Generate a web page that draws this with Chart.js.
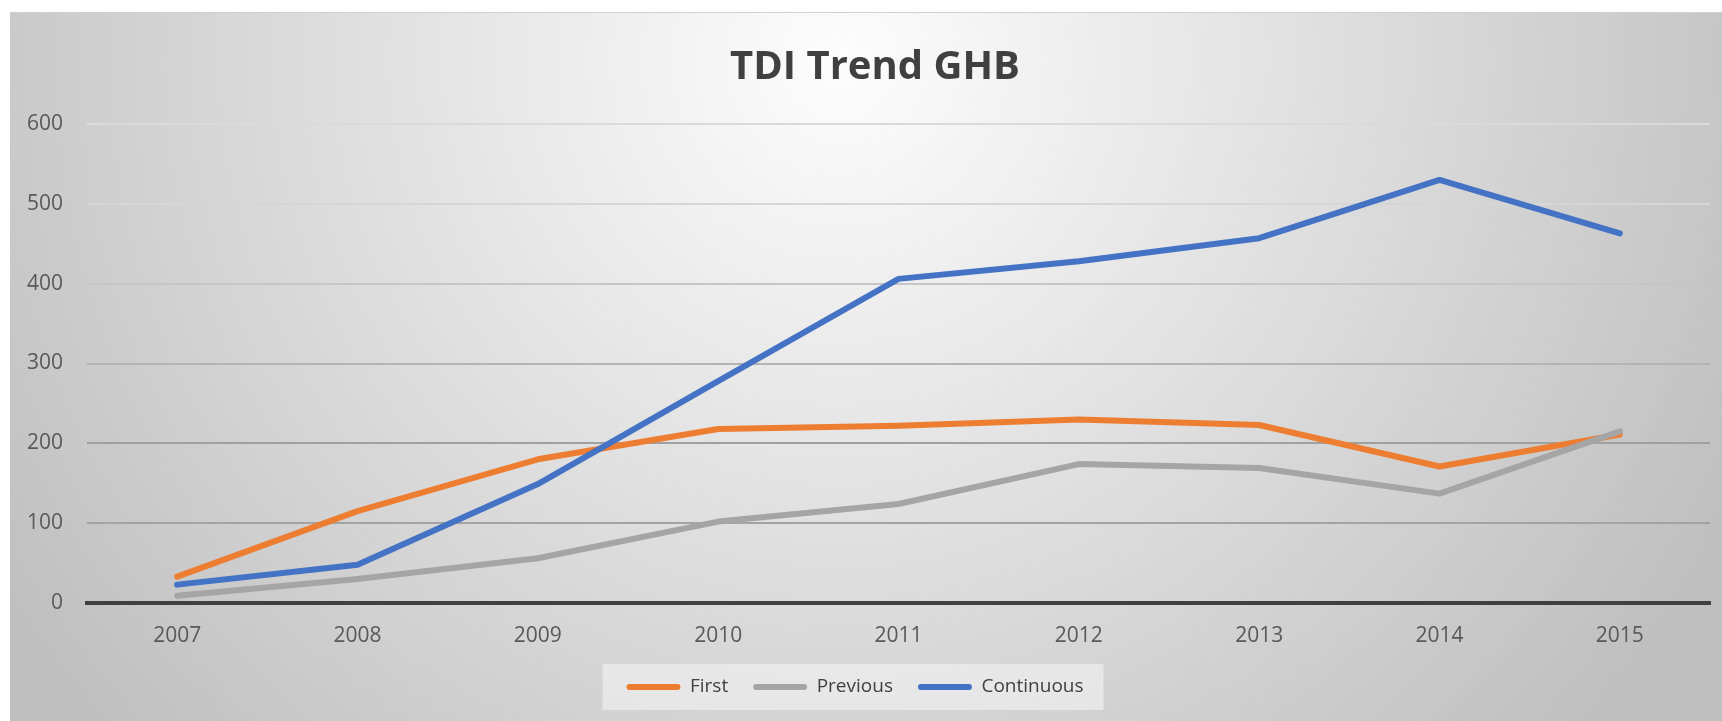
<!DOCTYPE html>
<html>
<head>
<meta charset="utf-8">
<script src="https://cdn.jsdelivr.net/npm/chart.js@4/dist/chart.umd.min.js"></script>
<style>
  html, body { margin: 0; padding: 0; background: #ffffff; }
  canvas { display: block; }
</style>
</head>
<body>
<canvas id="c" width="1722" height="721"></canvas>
<script>
const categories = ['2007', '2008', '2009', '2010', '2011', '2012', '2013', '2014', '2015'];
const firstValues = [33, 115, 180, 218, 222, 230, 223, 171, 211];
const previousValues = [9, 30, 56, 102, 124, 174, 169, 137, 215];
const continuousValues = [23, 48, 149, 278, 406, 428, 457, 530, 463];
const titleText = 'TDI Trend GHB';

const gridColors = {0: '#404040', 100: '#a3a3a3', 200: '#a0a0a0', 300: '#b4b4b4', 400: '#c6c6c6', 500: '#d6d6d6', 600: '#dadada'};

const bgPlugin = {
  id: 'bg',
  afterLayout(chart) {
    if (chart.titleBlock) {
      chart.titleBlock.left += 20;
      chart.titleBlock.right += 20;
    }
  },
  beforeDraw(chart) {
    const ctx = chart.ctx;
    const W = chart.width, H = chart.height;
    ctx.save();
    ctx.fillStyle = '#ffffff';
    ctx.fillRect(0, 0, W, H);
    const g = ctx.createRadialGradient(840, 60, 0, 840, 60, 1000);
    g.addColorStop(0, '#fdfdfd');
    g.addColorStop(1, '#bfbfbf');
    ctx.fillStyle = g;
    ctx.fillRect(10, 12, W - 10, H - 12);
    ctx.fillStyle = '#d0d0d0';
    ctx.fillRect(10, 12, W - 10, 1);
    const lg = chart.legend;
    if (lg && lg.legendHitBoxes && lg.legendHitBoxes.length) {
      let l = Infinity, r = -Infinity, t = Infinity, b = -Infinity;
      lg.legendHitBoxes.forEach(h => {
        l = Math.min(l, h.left); r = Math.max(r, h.left + h.width);
        t = Math.min(t, h.top); b = Math.max(b, h.top + h.height);
      });
      const cy = (t + b) / 2;
      ctx.fillStyle = 'rgba(245,245,245,0.55)';
      ctx.fillRect(l - 24, cy - 23, (r - l) + 44, 46);
    }
    ctx.restore();
  }
};

new Chart(document.getElementById('c'), {
  type: 'line',
  data: {
    labels: categories,
    datasets: [
      { label: 'Continuous', data: continuousValues, borderColor: '#4472C4', backgroundColor: '#4472C4' },
      { label: 'Previous', data: previousValues, borderColor: '#A5A5A5', backgroundColor: '#A5A5A5' },
      { label: 'First', data: firstValues, borderColor: '#ED7D31', backgroundColor: '#ED7D31' }
    ]
  },
  options: {
    responsive: false,
    animation: false,
    devicePixelRatio: 1,
    layout: { padding: { left: 0, right: 12, top: 12, bottom: 14.5 } },
    elements: {
      line: { borderWidth: 6, tension: 0, borderCapStyle: 'round', borderJoinStyle: 'round', fill: false },
      point: { radius: 0, hoverRadius: 0 }
    },
    plugins: {
      title: {
        display: true,
        text: titleText,
        color: '#404040',
        font: { family: '"Open Sans", sans-serif', size: 40, weight: 'bold', lineHeight: 1.2 },
        padding: { top: 32, bottom: 32 }
      },
      legend: {
        display: true,
        position: 'bottom',
        reverse: true,
        labels: {
          color: '#404040',
          font: { family: '"Open Sans", sans-serif', size: 19 },
          boxWidth: 54,
          boxHeight: 6,
          padding: 25,
          generateLabels(chart) {
            const items = Chart.defaults.plugins.legend.labels.generateLabels(chart);
            items.forEach(it => { it.lineWidth = 0; it.borderRadius = 3; });
            return items;
          }
        }
      },
      tooltip: { enabled: false }
    },
    scales: {
      x: {
        offset: true,
        grid: { display: false, drawTicks: false },
        border: { display: true, color: '#404040', width: 4 },
        ticks: { color: '#595959', padding: 20, font: { family: '"Open Sans", sans-serif', size: 21 }, maxRotation: 0 },
        afterFit(scale) { scale.height = 49.5; }
      },
      y: {
        min: 0,
        max: 600,
        ticks: { stepSize: 100, color: '#595959', padding: 24, font: { family: '"Open Sans", sans-serif', size: 21 } },
        grid: {
          drawTicks: false,
          lineWidth: ctx => (ctx.tick && ctx.tick.value === 0 ? 0 : 2),
          color: ctx => (ctx.tick ? (gridColors[ctx.tick.value] || '#c8c8c8') : '#c8c8c8')
        },
        border: { display: false },
        afterFit(scale) { scale.width = 87; }
      }
    }
  },
  plugins: [bgPlugin]
});
</script>
</body>
</html>
